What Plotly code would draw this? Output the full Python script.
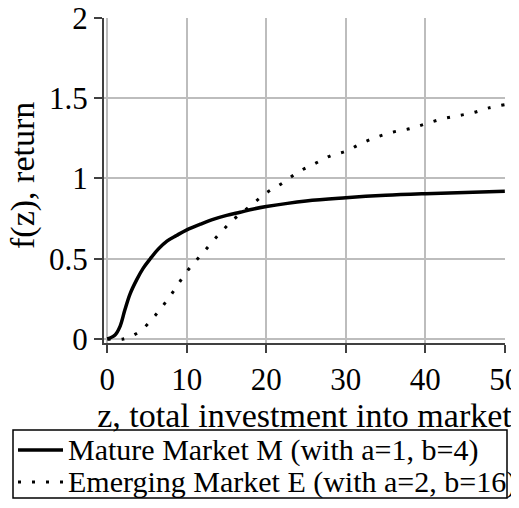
import plotly.graph_objects as go

# values
z_mature = [0, 1, 1.6, 2.2, 2.85, 3.7, 4.5, 5.4, 6.4, 7.5, 8.7, 10, 11.7, 13.3, 15,
            16.7, 18.4, 20, 25, 30, 35, 40, 45, 50]
f_mature = [0, 0.027, 0.079, 0.18, 0.28, 0.37, 0.44, 0.5, 0.56, 0.61, 0.645, 0.68,
            0.715, 0.745, 0.77, 0.79, 0.81, 0.825, 0.86, 0.88, 0.895, 0.905, 0.913, 0.92]

z_emerging = [0, 2, 4, 6, 8, 10, 12, 14, 16, 18, 20, 22, 24, 26, 28, 30, 32, 34, 36,
              38, 40, 42, 44, 46, 48, 50]
f_emerging = [0, 0.0, 0.045, 0.145, 0.275, 0.42, 0.535, 0.65, 0.75, 0.83, 0.91, 0.97,
              1.04, 1.09, 1.14, 1.17, 1.22, 1.26, 1.29, 1.31, 1.34, 1.37, 1.39, 1.41,
              1.44, 1.46]

name_mature = "Mature Market M (with a=1, b=4)"
name_emerging = "Emerging Market E (with a=2, b=16)"

x_ticks = [0, 10, 20, 30, 40, 50]
y_ticks = [0, 0.5, 1, 1.5, 2]
y_tick_text = ["0", "0.5", "1", "1.5", "2"]

serif = "Times New Roman, Liberation Serif, Times, serif"
# page body adds an 8px margin, so the figure is a bit smaller than the window
W, H = 511, 500
L, R, T, B = 96, 14, 10, 165
OFF = 8


def px(x):
    # window pixel column -> paper x
    return (x - OFF - L) / (W - L - R)


def py(y):
    # window pixel row -> paper y
    return (H - B - (y - OFF)) / (H - T - B)


solid = dict(color="black", width=3.5)
dotted = dict(color="black", width=3, dash="3px,11px")

fig = go.Figure()
fig.add_trace(go.Scatter(x=z_mature, y=f_mature, mode="lines", line_shape="spline",
                         name=name_mature, line=solid))
fig.add_trace(go.Scatter(x=z_emerging, y=f_emerging, mode="lines", line_shape="spline",
                         name=name_emerging, line=dotted))

axis_common = dict(
    showgrid=True, gridcolor="#bdbdbd", gridwidth=1.5,
    showline=True, linecolor="#404040", linewidth=2,
    ticks="outside", ticklen=8, tickcolor="#404040", tickwidth=1.5,
    tickfont=dict(family=serif, size=31, color="black"),
    zeroline=False, automargin=False, ticklabeloverflow="allow",
)

fig.update_xaxes(
    range=[-0.42, 50.02], tickvals=x_ticks,
    title=dict(text="z, total investment into market",
               font=dict(family=serif, size=34, color="black"), standoff=6),
    **axis_common,
)
fig.update_yaxes(
    range=[-0.025, 2.0], tickvals=y_ticks, ticktext=y_tick_text,
    **axis_common,
)

# y title placed further left than plotly's default
fig.add_annotation(text="f(z), return", xref="paper", yref="paper",
                   x=px(23), y=py(176), textangle=-90, showarrow=False,
                   xanchor="center", yanchor="middle",
                   font=dict(family=serif, size=34, color="black"))

# legend box drawn below the plot, like the reference
legend_rows = [(name_mature, solid, 450), (name_emerging, dotted, 482)]
fig.add_shape(type="rect", xref="paper", yref="paper",
              x0=px(13), x1=px(507), y0=py(430), y1=py(498),
              line=dict(color="black", width=1.5), fillcolor="white")
for label, style, row in legend_rows:
    fig.add_shape(type="line", xref="paper", yref="paper",
                  x0=px(18), x1=px(63), y0=py(row), y1=py(row), line=style)
    fig.add_annotation(text=label, xref="paper", yref="paper",
                       x=px(66), y=py(row), xanchor="left", yanchor="middle",
                       showarrow=False,
                       font=dict(family=serif, size=30, color="black"))

fig.update_layout(
    width=W, height=H,
    margin=dict(l=L, r=R, t=T, b=B),
    plot_bgcolor="white", paper_bgcolor="white",
    showlegend=False,
)

fig.write_html("out.html")
